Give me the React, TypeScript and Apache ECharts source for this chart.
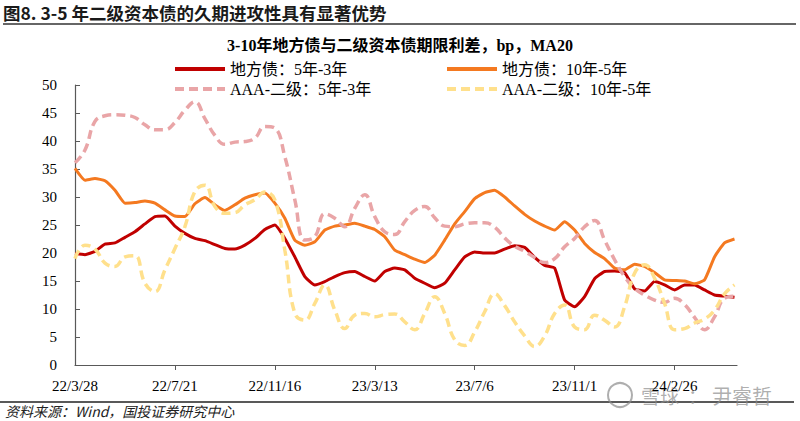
import React, { useEffect, useRef } from 'react';
import * as echarts from 'echarts';

// x-axis tick labels (every 80 trading days)
const tickLabels = ['22/3/28', '22/7/21', '22/11/16', '23/3/13', '23/7/6', '23/11/1', '24/2/26'];
const DAYS_PER_SAMPLE = 8;
const DAYS_PER_TICK = 80;
const LAST_DAY = 530;

const seriesNames = ['地方债：5年-3年', '地方债：10年-5年', 'AAA-二级：5年-3年', 'AAA-二级：10年-5年'];

// 地方债：5年-3年 (bp, MA20), sampled every 8 trading days
const localGov5y3y = [
  19.9, 19.7, 20.3, 21.6, 21.8, 22.8, 23.8, 25.2, 26.5, 26.6,
  24.8, 23.5, 22.6, 22.2, 21.5, 20.8, 20.7, 21.4, 22.6, 24.2,
  25.0, 22.6, 19.3, 15.8, 14.3, 14.9, 15.8, 16.5, 16.7, 15.8,
  15.0, 16.7, 17.3, 17.0, 15.5, 14.6, 13.8, 14.6, 17.0, 19.3,
  20.2, 20.0, 20.0, 20.7, 21.3, 21.0, 19.2, 17.8, 17.3, 11.6,
  10.4, 12.2, 15.4, 16.7, 16.8, 16.5, 13.6, 13.2, 14.9, 14.3,
  13.4, 14.3, 14.3, 13.4, 12.5, 12.3, 12.1,
];

// 地方债：10年-5年
const localGov10y5y = [
  35.1, 33.0, 33.3, 32.9, 31.2, 28.9, 29.0, 29.3, 28.9, 27.7,
  26.6, 26.5, 28.8, 29.9, 28.6, 27.6, 28.6, 29.8, 30.4, 30.7,
  28.9, 26.2, 22.3, 21.4, 22.0, 24.1, 24.8, 25.0, 25.3, 24.8,
  24.2, 22.9, 20.5, 19.7, 18.9, 18.3, 19.6, 22.3, 25.2, 27.4,
  29.7, 30.8, 31.2, 30.0, 28.4, 26.9, 25.7, 24.8, 24.1, 25.6,
  24.1, 21.7, 20.1, 19.0, 17.3, 17.0, 18.0, 17.6, 16.5, 15.2,
  15.1, 15.0, 14.5, 15.2, 19.3, 21.8, 22.5,
];

// AAA-二级：5年-3年
const aaaTier2_5y3y = [
  36.1, 38.4, 43.5, 44.5, 44.7, 44.6, 44.2, 42.9, 42.0, 42.0,
  43.3, 45.5, 47.0, 44.0, 41.0, 39.4, 39.8, 39.9, 40.5, 42.6,
  42.3, 37.2, 29.5, 22.3, 22.9, 27.0, 26.2, 24.7, 28.0, 30.4,
  26.5, 23.8, 23.3, 25.6, 27.6, 28.3, 26.3, 24.8, 24.7, 25.2,
  25.4, 25.4, 24.6, 22.7, 21.2, 20.3, 19.2, 18.3, 19.0, 21.1,
  22.6, 24.7, 25.8, 22.3, 18.8, 15.8, 13.7, 12.5, 11.6, 11.2,
  11.9, 10.8, 8.5, 6.3, 8.6, 11.9, 12.3,
];

// AAA-二级：10年-5年
const aaaTier2_10y5y = [
  19.0, 21.4, 20.7, 18.2, 17.6, 19.3, 19.5, 14.6, 13.1, 17.0,
  20.8, 24.7, 31.0, 32.1, 28.3, 27.1, 27.2, 28.6, 29.5, 30.9,
  29.5, 20.5, 9.2, 8.0, 11.0, 14.3, 9.8, 6.5, 8.9, 9.2,
  8.6, 9.0, 9.1, 7.7, 6.3, 9.2, 12.2, 9.2, 4.5, 3.5,
  5.9, 9.5, 12.7, 10.6, 7.7, 5.2, 3.3, 5.2, 9.2, 10.7,
  6.8, 6.3, 8.9, 8.0, 6.8, 10.4, 16.4, 17.9, 15.5, 11.0,
  6.3, 6.5, 7.5, 8.2, 9.8, 12.7, 14.3,
];

const colors = ['#C00000', '#F47920', '#E9A5A7', '#FFE08C'];
const serifFont = "'Liberation Serif', 'Times New Roman', 'Noto Sans CJK SC', serif";
const cjkFont = "'Noto Sans CJK SC', sans-serif";

export default function App() {
  const ref = useRef<HTMLDivElement>(null);

  useEffect(() => {
    if (!ref.current) return;
    const chart = echarts.init(ref.current, undefined, { renderer: 'svg' });
    const toPairs = (arr: number[]) => arr.map((v, i) => [i * DAYS_PER_SAMPLE, v]);
    const tickValues = tickLabels.map((_, i) => i * DAYS_PER_TICK);
    const dataSets = [localGov5y3y, localGov10y5y, aaaTier2_5y3y, aaaTier2_10y5y];

    const series = dataSets.map((d, i) => ({
      name: seriesNames[i],
      type: 'line',
      data: toPairs(d),
      symbol: 'none',
      showSymbol: false,
      smooth: i >= 2 ? 0.45 : 0.15,
      lineStyle: {
        color: colors[i],
        width: i >= 2 ? 3.5 : 3,
        type: i >= 2 ? [9, 5] : 'solid',
      },
      itemStyle: { color: colors[i] },
      z: 2 + i,
    }));

    const legendPos = [
      { left: 173, top: 61 },
      { left: 445, top: 61 },
      { left: 173, top: 81 },
      { left: 445, top: 81 },
    ];

    const option: any = {
      animation: false,
      backgroundColor: '#ffffff',
      title: [
        {
          text: '图8. 3-5 年二级资本债的久期进攻性具有显著优势',
          left: 3,
          top: 4,
          padding: 0,
          textStyle: { fontSize: 17.5, fontWeight: 'bold', fontFamily: cjkFont, color: '#1a1a1a' },
        },
        {
          text: '3-10年地方债与二级资本债期限利差，bp，MA20',
          left: 'center',
          top: 37,
          padding: 0,
          textStyle: { fontSize: 16, fontWeight: 'bold', fontFamily: serifFont, color: '#000' },
        },
      ],
      legend: seriesNames.map((n, i) => ({
        data: [n],
        ...legendPos[i],
        padding: 0,
        itemWidth: 50,
        itemHeight: 14,
        itemGap: 0,
        selectedMode: false,
        lineStyle: { width: 4 },
        itemStyle: { color: 'rgba(0,0,0,0)', borderColor: 'rgba(0,0,0,0)', borderWidth: 0 },
        textStyle: { fontSize: 16, fontFamily: serifFont, color: '#000' },
      })),
      grid: { left: 75, right: 63, top: 85, bottom: 56, containLabel: false },
      xAxis: {
        type: 'value',
        min: 0,
        max: LAST_DAY,
        interval: DAYS_PER_TICK,
        splitLine: { show: false },
        axisLine: { show: true, onZero: false, lineStyle: { color: '#595959', width: 1.2 } },
        axisTick: {
          show: true,
          inside: false,
          length: 5,
          customValues: tickValues.slice(1),
          lineStyle: { color: '#595959' },
        },
        axisLabel: {
          customValues: tickValues,
          formatter: (v: number) => tickLabels[Math.round(v / DAYS_PER_TICK)] ?? '',
          fontSize: 15,
          fontFamily: serifFont,
          color: '#000',
          margin: 13,
        },
      },
      yAxis: {
        type: 'value',
        min: 0,
        max: 50,
        interval: 5,
        splitLine: { show: false },
        axisLine: { show: true, lineStyle: { color: '#595959', width: 1.2 } },
        axisTick: { show: true, inside: true, length: 5, lineStyle: { color: '#595959' } },
        axisLabel: { fontSize: 15, fontFamily: serifFont, color: '#000', margin: 18 },
      },
      series,
      graphic: [
        {
          type: 'line',
          shape: { x1: 3, y1: 24, x2: 796, y2: 24 },
          style: { stroke: '#333', lineWidth: 1.5 },
          silent: true,
        },
        {
          type: 'line',
          shape: { x1: 0, y1: 402, x2: 794, y2: 402 },
          style: { stroke: '#222', lineWidth: 1.3 },
          silent: true,
        },
        {
          type: 'text',
          x: 5,
          y: 411,
          style: {
            text: '资料来源：Wind，国投证券研究中心',
            fontSize: 14,
            fontStyle: 'italic',
            fontFamily: cjkFont,
            fill: '#222',
            textVerticalAlign: 'middle',
          },
          silent: true,
        },
        {
          type: 'group',
          z: 100,
          silent: true,
          children: [
            {
              type: 'circle',
              shape: { cx: 620, cy: 395, r: 12 },
              style: { fill: 'none', stroke: 'rgba(140,140,140,0.7)', lineWidth: 2 },
            },
            {
              type: 'text',
              x: 641,
              y: 395,
              style: {
                text: '雪球',
                fontSize: 19,
                fontFamily: cjkFont,
                fill: 'rgba(140,140,140,0.7)',
                textVerticalAlign: 'middle',
              },
            },
            {
              type: 'text',
              x: 688,
              y: 395,
              style: {
                text: '：',
                fontSize: 19,
                fontFamily: cjkFont,
                fill: 'rgba(140,140,140,0.7)',
                textVerticalAlign: 'middle',
              },
            },
            {
              type: 'text',
              x: 712,
              y: 395,
              style: {
                text: '尹睿哲',
                fontSize: 20,
                fontFamily: cjkFont,
                fill: 'rgba(140,140,140,0.7)',
                textVerticalAlign: 'middle',
              },
            },
          ],
        },
      ],
    };

    chart.setOption(option);
    return () => chart.dispose();
  }, []);

  return (
    <div
      ref={ref}
      style={{ position: 'fixed', left: 0, top: 0, width: 800, height: 421, background: '#fff' }}
    />
  );
}
